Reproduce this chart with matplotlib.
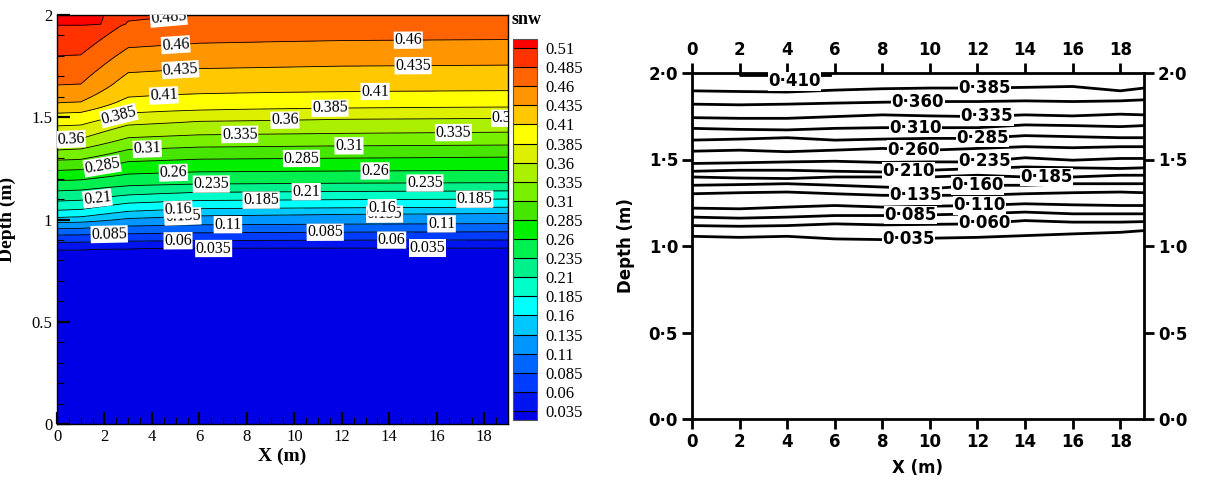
import numpy as np
import matplotlib
matplotlib.use('Agg')
import matplotlib.pyplot as plt
from matplotlib.colors import ListedColormap

# contour levels of snw (left: simulation)
levels = [0.035, 0.06, 0.085, 0.11, 0.135, 0.16, 0.185, 0.21, 0.235, 0.26,
          0.285, 0.31, 0.335, 0.36, 0.385, 0.41, 0.435, 0.46, 0.485, 0.51]

# simulated field: depth (m) of each contour level at these x stations
sim_x = [0, 1, 3, 6, 12, 19]
sim_depth = [
    [0.850, 0.850, 0.855, 0.858, 0.860, 0.860],  # 0.035
    [0.888, 0.889, 0.894, 0.897, 0.899, 0.900],  # 0.06
    [0.924, 0.925, 0.930, 0.935, 0.938, 0.940],  # 0.085
    [0.955, 0.957, 0.968, 0.974, 0.977, 0.980],  # 0.11
    [0.985, 0.987, 1.005, 1.018, 1.025, 1.030],  # 0.135
    [1.010, 1.013, 1.040, 1.053, 1.057, 1.060],  # 0.16
    [1.045, 1.049, 1.080, 1.093, 1.097, 1.100],  # 0.185
    [1.090, 1.094, 1.120, 1.133, 1.137, 1.140],  # 0.21
    [1.140, 1.144, 1.165, 1.173, 1.177, 1.180],  # 0.235
    [1.190, 1.194, 1.222, 1.233, 1.237, 1.240],  # 0.26
    [1.240, 1.244, 1.283, 1.295, 1.300, 1.305],  # 0.285
    [1.290, 1.294, 1.342, 1.354, 1.360, 1.364],  # 0.31
    [1.340, 1.345, 1.400, 1.414, 1.421, 1.427],  # 0.335
    [1.390, 1.395, 1.462, 1.480, 1.490, 1.495],  # 0.36
    [1.458, 1.462, 1.520, 1.535, 1.545, 1.550],  # 0.385
    [1.520, 1.524, 1.598, 1.615, 1.625, 1.630],  # 0.41
    [1.570, 1.575, 1.718, 1.738, 1.750, 1.755],  # 0.435
    [1.657, 1.662, 1.840, 1.862, 1.875, 1.880],  # 0.46
    [1.800, 1.805, 1.970, 2.000, 2.010, 2.020],  # 0.485
    [1.950, 1.952, 2.150, 2.200, 2.220, 2.240],  # 0.51
]
snw_below = 0.02   # value under the lowest contour
snw_above = 0.53   # value over the highest contour

# x positions of the contour labels on the left plot (one list per level)
sim_label_x = [
    [6.6, 15.6], [5.1, 14.1], [2.2, 11.3], [7.2, 16.2], [5.3, 13.8],
    [5.1, 13.7], [8.6, 17.6], [1.7, 10.5], [6.5, 15.5], [4.9, 13.4],
    [1.9, 10.3], [3.8, 12.3], [7.7, 16.7], [0.6, 9.6, 18.9], [2.6, 11.5],
    [4.5, 13.4], [5.2, 15.0], [5.0, 14.8], [4.7], [],
]

# measured contours (right plot): depth at x stations
obs_x = [0, 2, 4, 6, 8, 10, 12, 14, 16, 18, 19]
obs_levels = ['0·385', '0·360', '0·335', '0·310', '0·285', '0·260', '0·235', '0·210',
              '0·185', '0·160', '0·135', '0·110', '0·085', '0·060', '0·035']
obs_depth = [
    [1.897, 1.893, 1.890, 1.901, 1.909, 1.913, 1.913, 1.917, 1.922, 1.897, 1.913],
    [1.820, 1.816, 1.820, 1.826, 1.831, 1.835, 1.835, 1.839, 1.835, 1.839, 1.845],
    [1.742, 1.738, 1.738, 1.748, 1.758, 1.752, 1.748, 1.758, 1.752, 1.762, 1.758],
    [1.680, 1.674, 1.671, 1.680, 1.684, 1.684, 1.684, 1.700, 1.696, 1.690, 1.696],
    [1.612, 1.618, 1.626, 1.612, 1.618, 1.622, 1.622, 1.638, 1.632, 1.626, 1.626],
    [1.548, 1.554, 1.545, 1.554, 1.564, 1.554, 1.564, 1.574, 1.568, 1.574, 1.574],
    [1.477, 1.481, 1.486, 1.490, 1.483, 1.486, 1.486, 1.510, 1.496, 1.506, 1.506],
    [1.432, 1.438, 1.438, 1.432, 1.428, 1.438, 1.448, 1.457, 1.452, 1.448, 1.452],
    [1.399, 1.393, 1.390, 1.399, 1.399, 1.399, 1.409, 1.399, 1.399, 1.409, 1.409],
    [1.351, 1.355, 1.360, 1.351, 1.341, 1.331, 1.351, 1.351, 1.360, 1.360, 1.360],
    [1.302, 1.308, 1.312, 1.302, 1.293, 1.293, 1.293, 1.302, 1.308, 1.312, 1.308],
    [1.219, 1.215, 1.225, 1.234, 1.225, 1.230, 1.234, 1.244, 1.238, 1.234, 1.234],
    [1.167, 1.161, 1.167, 1.176, 1.176, 1.180, 1.186, 1.196, 1.186, 1.186, 1.186],
    [1.118, 1.114, 1.118, 1.128, 1.122, 1.125, 1.128, 1.147, 1.138, 1.138, 1.141],
    [1.056, 1.050, 1.056, 1.041, 1.037, 1.045, 1.050, 1.060, 1.070, 1.079, 1.089],
]
obs_label_x = [12.3, 9.5, 12.4, 9.4, 12.2, 9.3, 12.3, 9.1, 14.9, 12.0, 9.4, 12.1, 9.2, 12.3, 9.1]
# short 0.410 contour just under the surface
top_x = [2.0, 2.0, 5.8]
top_depth = [2.0, 1.988, 1.988]

# tecplot-like band colours, bottom to top
band_colors = ['#0014F0', '#003CFF', '#0064FF', '#0096FF', '#00C8FF', '#00FFFF',
               '#00FFC8', '#00F08C', '#00F050', '#00F000', '#46E600', '#78F000',
               '#AAF000', '#DCF000', '#FFFF00', '#FFC800', '#FF9600', '#FF6400',
               '#FF3200']
under_color = '#0000E6'
over_color = '#FF0000'

plt.rcParams['font.family'] = ['Liberation Serif', 'DejaVu Serif']

fig = plt.figure(figsize=(12.07, 4.8), dpi=100)

# ---- left: simulated snw ----
ax1 = fig.add_axes([57 / 1207, 56 / 480, 451 / 1207, 409 / 480])
sd = np.array(sim_depth)
xg = np.linspace(0, 19, 381)
dg = np.linspace(0, 2, 401)
cols = np.array([np.interp(dg, sd[:, j], levels, left=snw_below, right=snw_above)
                 for j in range(len(sim_x))])
Z = np.array([np.interp(xg, sim_x, cols[:, i]) for i in range(len(dg))])

cmap = ListedColormap(band_colors)
cmap.set_under(under_color)
cmap.set_over(over_color)
cf = ax1.contourf(xg, dg, Z, levels=levels, cmap=cmap, extend='both')
ax1.contour(xg, dg, Z, levels=levels, colors='black', linewidths=0.6)

ax1.set_xlim(0, 19)
ax1.set_ylim(0, 2)

# labels with white boxes, turned along the line
for lev, row, xs in zip(levels, sim_depth, sim_label_x):
    for lx in xs:
        ly = np.interp(lx, sim_x, row)
        p0 = ax1.transData.transform((lx - 0.4, np.interp(lx - 0.4, sim_x, row)))
        p1 = ax1.transData.transform((lx + 0.4, np.interp(lx + 0.4, sim_x, row)))
        ang = np.degrees(np.arctan2(p1[1] - p0[1], p1[0] - p0[0]))
        ax1.text(lx, ly, f'{lev:g}', fontsize=11.5, rotation=ang, rotation_mode='anchor',
                 ha='center', va='center', clip_on=True, zorder=4,
                 bbox=dict(facecolor='white', edgecolor='none', pad=0.5))

ax1.set_xticks(range(0, 19, 2))
ax1.set_xticks(np.arange(0, 19.01, 0.5), minor=True)
ax1.set_yticks([0, 0.5, 1, 1.5, 2])
ax1.set_yticklabels(['0', '0.5', '1', '1.5', '2'])
ax1.set_yticks(np.arange(0, 2.01, 0.1), minor=True)
ax1.tick_params(which='major', direction='in', length=9, width=1.6, labelsize=12,
                top=False, right=False)
ax1.tick_params(which='minor', direction='in', length=5, width=0.8,
                top=False, right=False)
for s in ax1.spines.values():
    s.set_linewidth(1.0)
ax1.set_xlabel('X (m)', fontsize=14, fontweight='bold', labelpad=2)
ax1.set_ylabel('Depth (m)', fontsize=14, fontweight='bold')
ax1.yaxis.set_label_coords(-0.092, 0.5)

cax = fig.add_axes([513 / 1207, 60 / 480, 24 / 1207, 381 / 480])
cbar = fig.colorbar(cf, cax=cax, drawedges=True, extendrect=True, extendfrac=0.025)
cbar.set_ticks(levels, labels=[f'{v:g}' for v in levels])
cbar.ax.tick_params(length=0, labelsize=12, pad=6)
cbar.outline.set_linewidth(0.8)
cbar.outline.set_edgecolor('#555555')
cbar.dividers.set_linewidth(0.8)
fig.text(527 / 1207, 1 - 19 / 480, 'snw', fontsize=13, fontweight='bold',
         ha='center', va='center')

# ---- right: measured contours ----
sans = 'DejaVu Sans'
ax2 = fig.add_axes([692 / 1207, 61 / 480, 452 / 1207, 346 / 480])
for lab, dep, lx in zip(obs_levels, obs_depth, obs_label_x):
    ax2.plot(obs_x, dep, color='black', lw=2.0, solid_joinstyle='round', zorder=2)
    ly = np.interp(lx, obs_x, dep)
    ax2.text(lx, ly, lab, fontsize=12, fontweight='bold', family=sans,
             ha='center', va='center', zorder=3,
             bbox=dict(facecolor='white', edgecolor='none', pad=0.3))
ax2.plot(top_x, top_depth, color='black', lw=2.0, zorder=2)
ax2.text(4.3, 1.952, '0·410', fontsize=12, fontweight='bold', family=sans,
         ha='center', va='center', zorder=3,
         bbox=dict(facecolor='white', edgecolor='none', pad=0.3))

ax2.set_xlim(0, 19)
ax2.set_ylim(0, 2)
ax2.set_xticks(range(0, 19, 2))
ax2.set_yticks([0, 0.5, 1.0, 1.5, 2.0])
ax2.set_yticklabels(['0·0', '0·5', '1·0', '1·5', '2·0'])
ax2.tick_params(direction='out', length=7, width=2, labelsize=12,
                top=True, right=True, labeltop=True, labelright=True, pad=3)
for lab in ax2.get_xticklabels() + ax2.get_yticklabels():
    lab.set_family(sans)
    lab.set_fontweight('bold')
for s in ax2.spines.values():
    s.set_linewidth(2.0)
ax2.set_xlabel('X (m)', fontsize=12, fontweight='bold', family=sans, labelpad=6)
ax2.set_ylabel('Depth (m)', fontsize=12, fontweight='bold', family=sans, labelpad=10)

fig.savefig('out.png', dpi=100)
